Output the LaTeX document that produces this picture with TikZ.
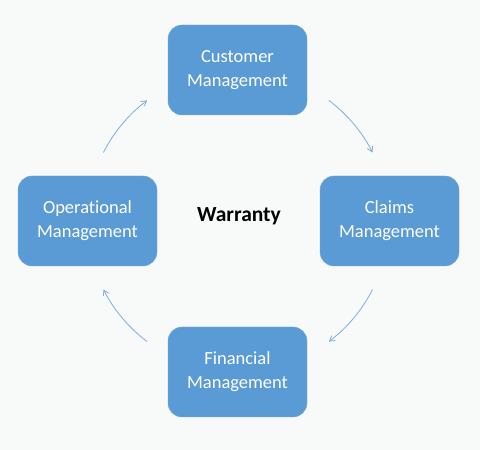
\documentclass[tikz,border=0pt]{standalone}
\usepackage{fontspec}
\setmainfont{Carlito}[Ligatures=NoCommon]
\usetikzlibrary{arrows.meta}
\definecolor{boxblue}{HTML}{5B9BD5}
\definecolor{arcblue}{HTML}{7DAEE0}
\definecolor{bgcol}{HTML}{F8F9F9}

\begin{document}
\begin{tikzpicture}[x=1pt, y=1pt,
  stage/.style={draw=boxblue!85!white, fill=boxblue, rounded corners=14pt, minimum width=139pt, minimum height=90pt, align=center, text=white, font=\fontsize{18.5}{24}\selectfont},
  cycarrow/.style={draw=arcblue, line width=0.8pt, -{Straight Barb[length=5pt, width=6pt]}}]
  \fill[bgcol] (0,0) rectangle (480,450);
  \useasboundingbox (0,0) rectangle (480,450);
  \coordinate (hub) at (238,229);
  \node[stage] (cust) at (237.5,380) {Customer\\Management};
  \node[stage] (claims) at (389.5,229) {Claims\\Management};
  \node[stage] (fin) at (237.5,78) {Financial\\Management};
  \node[stage] (oper) at (87.5,229) {Operational\\Management};
  \node[font=\fontsize{21.5}{24}\selectfont\bfseries] (warr) at (239,234) {Warranty};
  \draw[cycarrow] (hub) ++(153:151) arc[start angle=153, end angle=127, radius=151];
  \draw[cycarrow] (hub) ++(53:151) arc[start angle=53, end angle=27, radius=151];
  \draw[cycarrow] (hub) ++(-27:151) arc[start angle=-27, end angle=-53, radius=151];
  \draw[cycarrow] (hub) ++(-127:151) arc[start angle=-127, end angle=-153, radius=151];
\end{tikzpicture}
\end{document}
